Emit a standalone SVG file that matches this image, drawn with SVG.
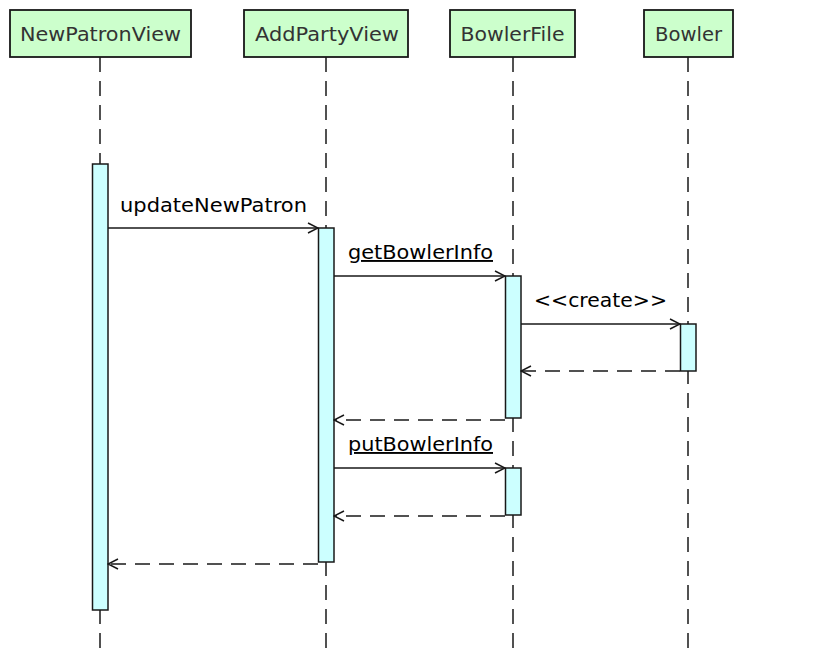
<svg xmlns="http://www.w3.org/2000/svg" width="834" height="648" viewBox="0 0 834 648">
<style>
.head rect{fill:#CCFFCC;stroke:#181818;stroke-width:1.8}
.head text{font-family:"DejaVu Sans","Liberation Sans",sans-serif;font-size:20px;fill:#333333;text-anchor:middle}
.life{stroke:#181818;stroke-width:1.5;stroke-dasharray:15,9;fill:none}
.act{fill:#CCFFFF;stroke:#181818;stroke-width:1.5}
.msg{stroke:#181818;stroke-width:1.5;fill:none}
.ret{stroke:#181818;stroke-width:1.5;fill:none;stroke-dasharray:15,9}
.lbl{font-family:"DejaVu Sans","Liberation Sans",sans-serif;font-size:19px;fill:#000000}
.ul{text-decoration:underline}
</style>
<defs>
<marker id="ah" viewBox="0 0 12 12" refX="11" refY="6" markerWidth="12" markerHeight="12" markerUnits="userSpaceOnUse" orient="auto">
<path d="M1,1 L11,6 L1,11" fill="none" stroke="#181818" stroke-width="1.5"/>
</marker>
</defs>
<rect width="834" height="648" fill="#ffffff"/>
<g id="lifelines">
<line class="life" x1="100" y1="57" x2="100" y2="648"/>
<line class="life" x1="326" y1="57" x2="326" y2="648"/>
<line class="life" x1="513" y1="57" x2="513" y2="648"/>
<line class="life" x1="688" y1="57" x2="688" y2="648"/>
</g>
<g id="NewPatronView" class="head">
<rect x="10" y="10" width="181" height="47"/>
<text x="100.5" y="41" textLength="161" lengthAdjust="spacingAndGlyphs">NewPatronView</text>
</g>
<g id="AddPartyView" class="head">
<rect x="244" y="10" width="164" height="47"/>
<text x="327" y="41" textLength="144" lengthAdjust="spacingAndGlyphs">AddPartyView</text>
</g>
<g id="BowlerFile" class="head">
<rect x="450" y="10" width="125" height="47"/>
<text x="512.5" y="41" textLength="104" lengthAdjust="spacingAndGlyphs">BowlerFile</text>
</g>
<g id="Bowler" class="head">
<rect x="644" y="10" width="89" height="47"/>
<text x="688.5" y="41" textLength="67" lengthAdjust="spacingAndGlyphs">Bowler</text>
</g>
<g id="activations">
<rect class="act" x="92.5" y="164" width="15.5" height="446"/>
<rect class="act" x="318.5" y="228" width="15.5" height="334"/>
<rect class="act" x="505.5" y="276" width="15.5" height="142"/>
<rect class="act" x="505.5" y="468" width="15.5" height="47"/>
<rect class="act" x="680.5" y="324" width="15.5" height="47"/>
</g>
<g id="connectors">
<line class="msg" x1="108" y1="228" x2="318" y2="228" marker-end="url(#ah)"/>
<line class="msg" x1="334" y1="276" x2="505" y2="276" marker-end="url(#ah)"/>
<line class="msg" x1="521" y1="324" x2="680" y2="324" marker-end="url(#ah)"/>
<line class="ret" x1="680" y1="371" x2="521" y2="371" marker-end="url(#ah)"/>
<line class="ret" x1="505" y1="420" x2="334" y2="420" marker-end="url(#ah)"/>
<line class="msg" x1="334" y1="468" x2="505" y2="468" marker-end="url(#ah)"/>
<line class="ret" x1="505" y1="516" x2="334" y2="516" marker-end="url(#ah)"/>
<line class="ret" x1="318" y1="564" x2="108" y2="564" marker-end="url(#ah)"/>
</g>
<g id="labels">
<text class="lbl" x="120" y="212" textLength="187" lengthAdjust="spacingAndGlyphs">updateNewPatron</text>
<text class="lbl ul" x="348" y="259" textLength="145" lengthAdjust="spacingAndGlyphs">getBowlerInfo</text>
<text class="lbl" x="534" y="307" textLength="133" lengthAdjust="spacingAndGlyphs">&lt;&lt;create&gt;&gt;</text>
<text class="lbl ul" x="348" y="451" textLength="145" lengthAdjust="spacingAndGlyphs">putBowlerInfo</text>
</g>
</svg>
